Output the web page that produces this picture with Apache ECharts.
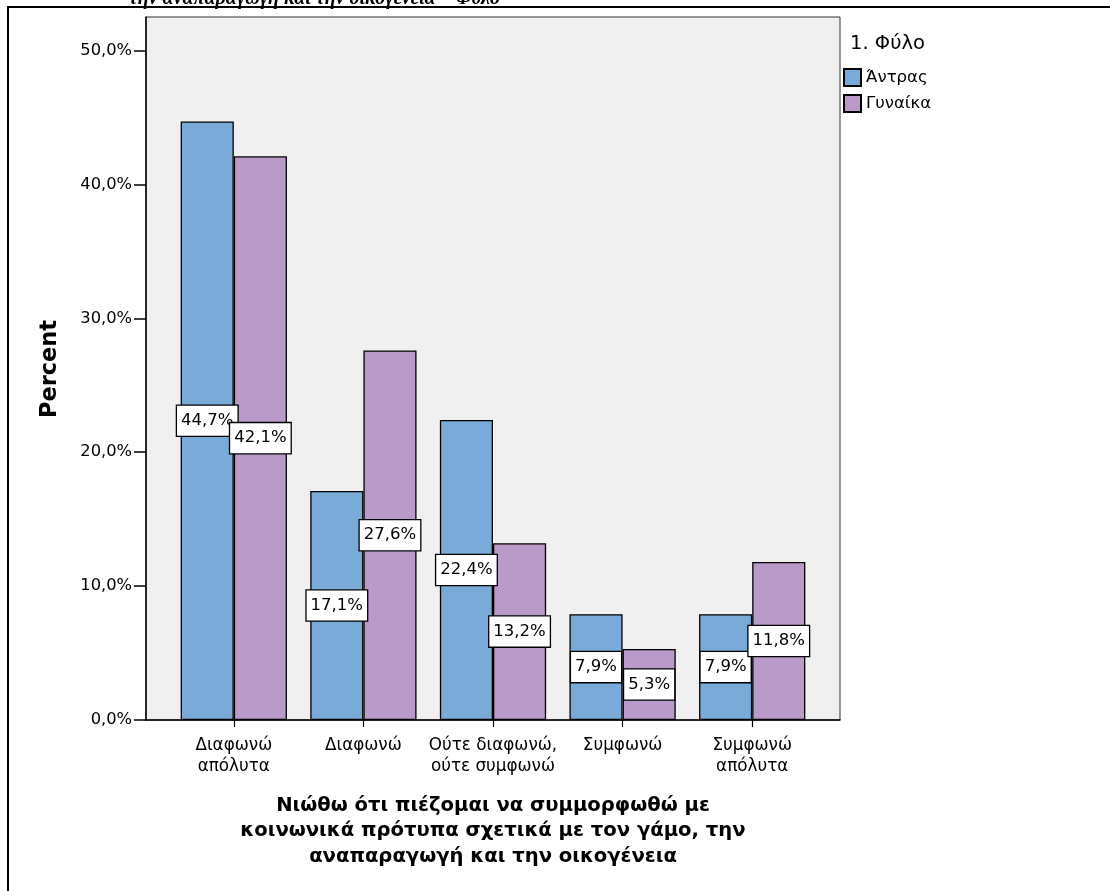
<!DOCTYPE html>
<html>
<head>
<meta charset="utf-8">
<script src="https://cdn.jsdelivr.net/npm/echarts@6/dist/echarts.min.js"></script>
<style>html,body{margin:0;padding:0;background:#fff;}#c{width:1110px;height:891px;}</style>
</head>
<body>
<div id="c"></div>
<script>
const categories = ['Διαφωνώ\nαπόλυτα', 'Διαφωνώ', 'Ούτε διαφωνώ,\nούτε συμφωνώ', 'Συμφωνώ', 'Συμφωνώ\nαπόλυτα'];
const seriesNames = ['Άντρας', 'Γυναίκα'];
const men = [44.7, 17.1, 22.4, 7.9, 7.9];
const women = [42.1, 27.6, 13.2, 5.3, 11.8];
const yTicks = [0, 10, 20, 30, 40, 50];
const yMax = 52.5;

const FONT = '"DejaVu Sans", sans-serif';
const fmt = v => v.toFixed(1).replace('.', ',') + '%';

const chart = echarts.init(document.getElementById('c'), null, {renderer: 'canvas'});

const labelStyle = {
  show: true,
  position: 'inside',
  formatter: p => fmt(p.value),
  color: '#000',
  fontFamily: FONT,
  fontSize: 16.5,
  backgroundColor: '#fff',
  borderColor: '#000',
  borderWidth: 1.3,
  padding: [7, 4, 6, 4]
};

chart.setOption({
  animation: false,
  backgroundColor: '#fff',
  textStyle: {fontFamily: FONT},
  grid: [
    {left: 146, right: 270, top: 17, bottom: 171, show: true, backgroundColor: '#f0f0f0', borderColor: '#333', borderWidth: 1},
    {left: 169, right: 293, top: 17, bottom: 171}
  ],
  xAxis: [
    {gridIndex: 0, type: 'category', data: [''], axisLine: {lineStyle: {color: '#000', width: 1.5}}, axisTick: {show: false}, axisLabel: {show: false}},
    {gridIndex: 1, type: 'category', data: categories, axisLine: {show: false},
     axisTick: {show: true, alignWithLabel: true, length: 7, lineStyle: {color: '#000', width: 1.2}},
     axisLabel: {color: '#000', fontSize: 16.8, fontFamily: FONT, lineHeight: 21, margin: 15, interval: 0}}
  ],
  yAxis: [
    {gridIndex: 0, type: 'value', min: 0, max: yMax,
     axisLine: {show: true, lineStyle: {color: '#000', width: 1.5}},
     axisTick: {show: true, length: 12, customValues: yTicks, lineStyle: {color: '#000', width: 1.5}},
     axisLabel: {customValues: yTicks, formatter: v => fmt(v), color: '#000', fontSize: 16.3, fontFamily: FONT, margin: 14},
     splitLine: {show: false}},
    {gridIndex: 1, type: 'value', min: 0, max: yMax, show: false, splitLine: {show: false}}
  ],
  legend: {
    orient: 'vertical', left: 843, top: 68, itemWidth: 17, itemHeight: 17, itemGap: 7, padding: 0,
    icon: 'rect', data: seriesNames,
    textStyle: {color: '#000', fontSize: 16.5, fontFamily: FONT}
  },
  series: [
    {name: seriesNames[0], type: 'bar', xAxisIndex: 1, yAxisIndex: 1, data: men, barGap: '0%', barCategoryGap: '18%',
     itemStyle: {color: '#7aaad7', borderColor: '#000', borderWidth: 1.3}, label: labelStyle},
    {name: seriesNames[1], type: 'bar', xAxisIndex: 1, yAxisIndex: 1, data: women, barGap: '0%', barCategoryGap: '18%',
     itemStyle: {color: '#b99ac9', borderColor: '#000', borderWidth: 1.3}, label: labelStyle}
  ],
  graphic: [
    {type: 'rect', shape: {x: 8, y: 7, width: 1300, height: 1000}, style: {fill: 'none', stroke: '#000', lineWidth: 2}, silent: true},
    {type: 'text', x: 500, y: 9, style: {text: 'την αναπαραγωγή και την οικογένεια * Φύλο', align: 'right', verticalAlign: 'bottom', font: 'italic bold 20px "Liberation Serif", serif', fill: '#000'}},
    {type: 'text', x: 850, y: 44, style: {text: '1. Φύλο', align: 'left', verticalAlign: 'middle', font: '19.5px "DejaVu Sans", sans-serif', fill: '#000'}},
    {type: 'text', x: 50, y: 369, rotation: Math.PI / 2, style: {text: 'Percent', align: 'center', verticalAlign: 'middle', font: 'bold 22.5px "DejaVu Sans", sans-serif', fill: '#000'}},
    {type: 'text', x: 493, y: 831, style: {text: 'Νιώθω ότι πιέζομαι να συμμορφωθώ με\nκοινωνικά πρότυπα σχετικά με τον γάμο, την\nαναπαραγωγή και την οικογένεια', align: 'center', verticalAlign: 'middle', lineHeight: 25.5, font: 'bold 19.6px "DejaVu Sans", sans-serif', fill: '#000'}}
  ]
});
</script>
</body>
</html>
